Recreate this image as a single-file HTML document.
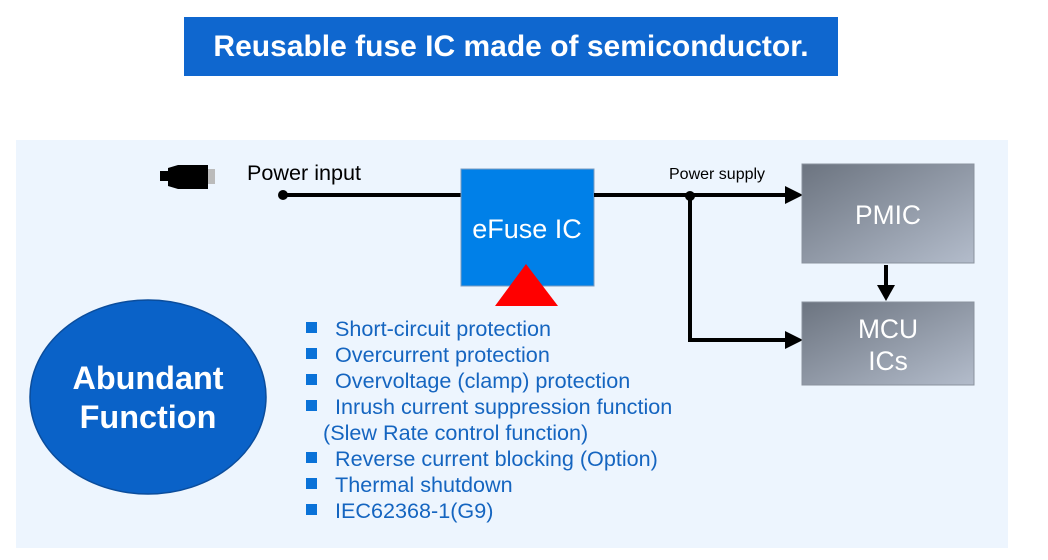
<!DOCTYPE html>
<html><head><style>
body{margin:0;width:1048px;height:560px;background:#fff;position:relative;overflow:hidden;font-family:"Liberation Sans",Arial,sans-serif}
.a{position:absolute}
</style></head><body>
<div class="a" style="left:184px;top:17px;width:654px;height:59px;background:#0f67cf;color:#fff;font-weight:bold;font-size:30px;text-align:center;line-height:59px">Reusable fuse IC made of semiconductor.</div>
<div class="a" style="left:16px;top:140px;width:992px;height:408px;background:#edf5fe"></div>
<svg class="a" style="left:0;top:0" width="1048" height="560">
<defs>
<linearGradient id="g" x1="0" y1="0" x2="1" y2="1"><stop offset="0" stop-color="#6c7480"/><stop offset="1" stop-color="#b3bccb"/></linearGradient>
</defs>
<rect x="160" y="171" width="10" height="10" fill="#000"/>
<path d="M168 168 L178 165 L208 165 L208 189 L178 189 L168 186 Z" fill="#000"/>
<rect x="208" y="169" width="7" height="15" fill="#bbb"/>
<text x="247" y="180" font-size="21.6" fill="#000" font-family="Liberation Sans">Power input</text>
<line x1="283" y1="195" x2="462" y2="195" stroke="#000" stroke-width="4"/>
<circle cx="283" cy="195" r="5" fill="#000"/>
<rect x="461" y="169" width="133" height="117" fill="#0080e8" stroke="#7a9cc0" stroke-width="1"/>
<text x="527" y="238" font-size="27" fill="#fff" text-anchor="middle" font-family="Liberation Sans">eFuse IC</text>
<polygon points="526,264 495,306 558,306" fill="#ff0000"/>
<line x1="594" y1="195" x2="788" y2="195" stroke="#000" stroke-width="4"/>
<polygon points="785,186 803,195 785,204" fill="#000"/>
<circle cx="690" cy="196" r="5" fill="#000"/>
<polyline points="690,196 690,340 788,340" fill="none" stroke="#000" stroke-width="4"/>
<polygon points="785,331 803,340 785,349" fill="#000"/>
<text x="669" y="179" font-size="16" fill="#000" font-family="Liberation Sans">Power supply</text>
<rect x="802" y="164" width="172" height="99" fill="url(#g)" stroke="#8a929e"/>
<text x="888" y="224" font-size="26.4" fill="#fff" text-anchor="middle" font-family="Liberation Sans">PMIC</text>
<line x1="886" y1="265" x2="886" y2="288" stroke="#000" stroke-width="4"/>
<polygon points="877,285 895,285 886,301" fill="#000"/>
<rect x="802" y="302" width="172" height="83" fill="url(#g)" stroke="#8a929e"/>
<text x="888" y="338" font-size="26.4" fill="#fff" text-anchor="middle" font-family="Liberation Sans">MCU</text>
<text x="888" y="370" font-size="26.4" fill="#fff" text-anchor="middle" font-family="Liberation Sans">ICs</text>
<ellipse cx="148" cy="397" rx="118" ry="97" fill="#0a62c8" stroke="#0b4d9c" stroke-width="1.5"/>
<text x="148" y="389" font-size="32.4" font-weight="bold" fill="#fff" text-anchor="middle" font-family="Liberation Sans">Abundant</text>
<text x="148" y="428" font-size="32.4" font-weight="bold" fill="#fff" text-anchor="middle" font-family="Liberation Sans">Function</text>
<g font-size="21.6" fill="#1565c0" font-family="Liberation Sans">
<rect x="306" y="322" width="11" height="11" fill="#0a72d8"/><text x="335" y="336">Short-circuit protection</text>
<rect x="306" y="348" width="11" height="11" fill="#0a72d8"/><text x="335" y="362">Overcurrent protection</text>
<rect x="306" y="374" width="11" height="11" fill="#0a72d8"/><text x="335" y="388">Overvoltage (clamp) protection</text>
<rect x="306" y="400" width="11" height="11" fill="#0a72d8"/><text x="335" y="414">Inrush current suppression function</text>
<text x="323" y="440">(Slew Rate control function)</text>
<rect x="306" y="452" width="11" height="11" fill="#0a72d8"/><text x="335" y="466">Reverse current blocking (Option)</text>
<rect x="306" y="478" width="11" height="11" fill="#0a72d8"/><text x="335" y="492">Thermal shutdown</text>
<rect x="306" y="504" width="11" height="11" fill="#0a72d8"/><text x="335" y="518">IEC62368-1(G9)</text>
</g>
</svg>
</body></html>
